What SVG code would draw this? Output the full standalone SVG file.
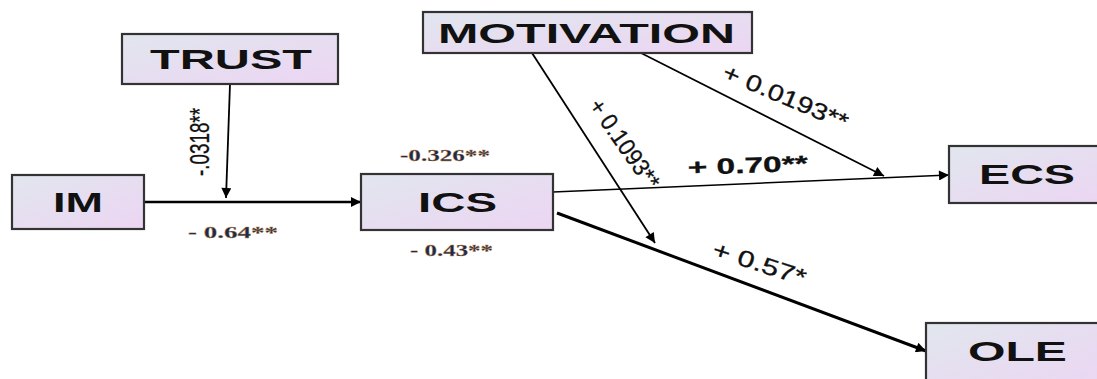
<svg xmlns="http://www.w3.org/2000/svg" width="1097" height="379" viewBox="0 0 1097 379">
<defs>
<linearGradient id="g" x1="0" y1="0" x2="1" y2="1">
<stop offset="0" stop-color="#e1e6ee"/>
<stop offset="1" stop-color="#ecd5f3"/>
</linearGradient>
<marker id="ah" viewBox="0 0 10 10" refX="10" refY="5" markerWidth="18" markerHeight="10" markerUnits="userSpaceOnUse" orient="auto">
<path d="M0,0 L10,5 L0,10 Z" fill="#000"/>
</marker>
</defs>
<style>
.box{fill:url(#g);stroke:#333;stroke-width:2.2}
.nl{font-family:"Liberation Sans",Arial,sans-serif;font-weight:bold;font-size:28px;fill:#111}
.e{fill:none;stroke:#000;marker-end:url(#ah)}
.sl{font-family:"Liberation Sans",Arial,sans-serif;font-size:22px;fill:#111;stroke:#111;stroke-width:0.3}
.sr{font-family:"Liberation Serif","Times New Roman",serif;font-weight:bold;font-size:17px;fill:#1d2b4f;stroke:#c98a3a;stroke-width:0.3}
</style>
<rect width="1097" height="379" fill="#fff"/>
<g id="connectors">
<path class="e" d="M230,84 L226,198" stroke-width="1.8"/>
<path class="e" d="M144,202 L361,202" stroke-width="2.6"/>
<path class="e" d="M553,192 L949,175" stroke-width="1.6"/>
<path class="e" d="M557,213 L926,351" stroke-width="3"/>
<path class="e" d="M532,53 L655,243" stroke-width="1.8"/>
<path class="e" d="M641,53 L884,176" stroke-width="1.6"/>
</g>
<g id="labels">
<text class="sl" style="font-size:28px" transform="translate(209,176) rotate(-90)" textLength="68" lengthAdjust="spacingAndGlyphs">-.0318**</text>
<text class="sr" x="400" y="161" textLength="90" lengthAdjust="spacingAndGlyphs">-0.326**</text>
<text class="sr" x="188" y="238" textLength="90" lengthAdjust="spacingAndGlyphs">- 0.64**</text>
<text class="sr" x="410" y="256" textLength="83" lengthAdjust="spacingAndGlyphs">- 0.43**</text>
<text class="sl" style="font-size:24px" transform="translate(588,106) rotate(55)" textLength="104" lengthAdjust="spacingAndGlyphs">+ 0.1093**</text>
<text class="sl" style="font-size:23px" transform="translate(721,78) rotate(23)" textLength="134" lengthAdjust="spacingAndGlyphs">+ 0.0193**</text>
<text class="sl" font-weight="bold" transform="translate(688,175) rotate(-2)" textLength="120" lengthAdjust="spacingAndGlyphs">+ 0.70**</text>
<text class="sl" style="font-size:23px" transform="translate(711,256) rotate(18)" textLength="97" lengthAdjust="spacingAndGlyphs">+ 0.57*</text>
</g>
<g id="TRUST"><rect class="box" x="122" y="34" width="216" height="50"/><text class="nl" x="150" y="69" textLength="162" lengthAdjust="spacingAndGlyphs">TRUST</text></g>
<g id="MOTIVATION"><rect class="box" x="423" y="12" width="329" height="41"/><text class="nl" x="438" y="43" textLength="297" lengthAdjust="spacingAndGlyphs">MOTIVATION</text></g>
<g id="IM"><rect class="box" x="12" y="175" width="132" height="54"/><text class="nl" x="53" y="212" textLength="50" lengthAdjust="spacingAndGlyphs">IM</text></g>
<g id="ICS"><rect class="box" x="361" y="174" width="192" height="56"/><text class="nl" x="418" y="212" textLength="79" lengthAdjust="spacingAndGlyphs">ICS</text></g>
<g id="ECS"><rect class="box" x="949" y="146" width="160" height="57"/><text class="nl" x="979" y="184" textLength="96" lengthAdjust="spacingAndGlyphs">ECS</text></g>
<g id="OLE"><rect class="box" x="926" y="323" width="180" height="70"/><text class="nl" x="968" y="361" textLength="99" lengthAdjust="spacingAndGlyphs">OLE</text></g>
</svg>
